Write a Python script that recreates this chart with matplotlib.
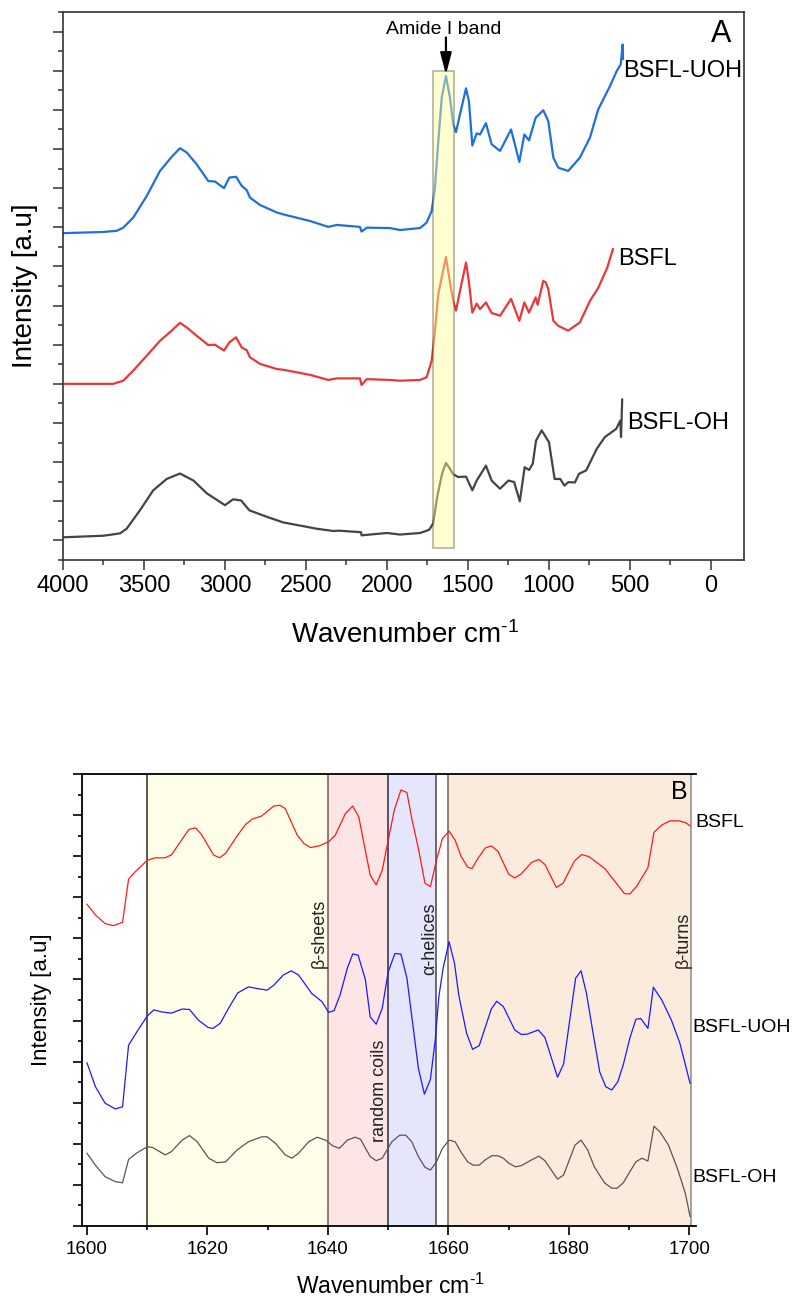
import matplotlib
matplotlib.use('Agg')
import matplotlib.pyplot as plt
from matplotlib.ticker import MultipleLocator, NullFormatter

plt.rcParams['font.family'] = ['Liberation Sans', 'DejaVu Sans']
plt.rcParams['mathtext.fontset'] = 'custom'
plt.rcParams['mathtext.rm'] = 'Liberation Sans'
plt.rcParams['mathtext.it'] = 'Liberation Sans:italic'
plt.rcParams['mathtext.default'] = 'regular'

# ---------------- Panel A data (FTIR spectra, offset) ----------------
a_uoh_x = [4000, 3751, 3669, 3628, 3566, 3483, 3401, 3329, 3278, 3236, 3175, 3103, 3062, 3006, 2973, 2932,
           2897, 2866, 2846, 2784, 2681, 2640, 2475, 2362, 2310, 2167, 2157, 2125, 1981, 1920, 1796, 1755,
           1724, 1704, 1683, 1662, 1636, 1611, 1591, 1574, 1549, 1512, 1494, 1473, 1446, 1426, 1389, 1354,
           1302, 1234, 1183, 1152, 1123, 1082, 1035, 1004, 973, 942, 881, 809, 747, 696, 623, 582, 557, 545, 543]
a_uoh_y = [7.85, 7.88, 7.91, 7.99, 8.25, 8.80, 9.44, 9.80, 10.02, 9.91, 9.61, 9.18, 9.17, 9.00, 9.27, 9.29,
           9.06, 8.95, 8.76, 8.57, 8.38, 8.33, 8.16, 8.01, 8.06, 8.01, 7.89, 7.99, 7.98, 7.93, 7.98, 8.12,
           8.42, 9.01, 10.2, 11.31, 11.86, 11.31, 10.63, 10.43, 10.89, 11.55, 11.22, 10.09, 10.40, 10.37, 10.66, 10.12,
           9.95, 10.5, 9.67, 10.37, 10.22, 10.8, 10.99, 10.71, 9.78, 9.52, 9.44, 9.78, 10.29, 11.01, 11.61, 11.99, 12.16, 12.67, 12.3]

a_bsfl_x = [4000, 3751, 3690, 3628, 3566, 3483, 3401, 3329, 3278, 3236, 3175, 3103, 3062, 3006, 2973, 2932,
            2897, 2866, 2846, 2784, 2681, 2640, 2475, 2362, 2310, 2167, 2157, 2125, 1981, 1920, 1796, 1755,
            1724, 1704, 1683, 1662, 1636, 1611, 1591, 1574, 1549, 1512, 1494, 1473, 1446, 1426, 1389, 1354,
            1302, 1234, 1183, 1152, 1123, 1082, 1070, 1035, 1020, 1004, 973, 942, 881, 809, 747, 696, 640, 605]
a_bsfl_y = [4.0, 4.0, 4.0, 4.08, 4.34, 4.72, 5.1, 5.36, 5.56, 5.44, 5.23, 4.99, 5.0, 4.85, 5.06, 5.19,
            4.93, 4.86, 4.68, 4.51, 4.38, 4.36, 4.23, 4.10, 4.14, 4.14, 3.97, 4.12, 4.10, 4.08, 4.10, 4.17,
            4.59, 5.36, 6.3, 6.72, 7.24, 6.59, 6.12, 5.87, 6.38, 7.1, 6.6, 5.82, 6.05, 5.91, 6.08, 5.81,
            5.74, 6.17, 5.61, 6.08, 5.82, 6.21, 6.02, 6.63, 6.59, 6.42, 5.61, 5.48, 5.36, 5.57, 6.12, 6.45, 6.97, 7.44]

a_oh_x = [4000, 3750, 3648, 3607, 3525, 3443, 3360, 3278, 3195, 3111, 3000, 2950, 2900, 2850, 2740, 2640,
          2435, 2330, 2300, 2160, 2157, 2000, 1920, 1796, 1740, 1715, 1690, 1660, 1636, 1611, 1591, 1560,
          1512, 1473, 1446, 1389, 1354, 1302, 1250, 1215, 1180, 1150, 1123, 1100, 1080, 1045, 1000, 965,
          930, 905, 880, 840, 815, 770, 705, 655, 585, 560, 555, 548]
a_oh_y = [0.08, 0.12, 0.18, 0.30, 0.77, 1.28, 1.57, 1.71, 1.53, 1.2, 0.9, 1.05, 1.02, 0.77, 0.6, 0.46,
          0.3, 0.24, 0.25, 0.21, 0.13, 0.19, 0.15, 0.19, 0.27, 0.43, 1.11, 1.70, 1.98, 1.83, 1.69, 1.62,
          1.63, 1.28, 1.53, 1.91, 1.53, 1.32, 1.53, 1.49, 1.0, 1.87, 1.80, 1.96, 2.55, 2.81, 2.51, 1.57,
          1.57, 1.40, 1.49, 1.48, 1.70, 1.79, 2.34, 2.64, 2.85, 3.06, 2.64, 3.6]

a_xticks = [4000, 3500, 3000, 2500, 2000, 1500, 1000, 500, 0]
amide_band = (1716, 1586)

# ---------------- Panel B data (amide I region) ----------------
b_bsfl_x = [1600.0, 1601.4, 1603.0, 1604.4, 1605.9, 1606.9, 1608.0, 1610.0, 1611.3, 1612.9, 1614.0, 1615.5,
            1616.9, 1618.0, 1619.0, 1621.0, 1622.0, 1623.0, 1624.9, 1626.3, 1627.4, 1629.0, 1631.0, 1632.0,
            1632.9, 1634.9, 1636.0, 1637.1, 1638.5, 1640.1, 1641.2, 1642.9, 1644.1, 1645.1, 1647.0, 1648.0,
            1649.0, 1651.0, 1652.1, 1653.1, 1653.9, 1655.0, 1656.1, 1657.0, 1658.0, 1659.0, 1660.1, 1661.1,
            1662.1, 1663.2, 1663.9, 1664.9, 1666.1, 1667.1, 1668.2, 1670.0, 1671.0, 1672.0, 1673.8, 1675.0,
            1676.0, 1677.9, 1679.0, 1680.9, 1682.1, 1683.3, 1684.6, 1686.0, 1687.6, 1689.2, 1690.1, 1691.2,
            1693.1, 1694.1, 1695.4, 1696.8, 1698.2, 1699.3, 1700.1]
b_bsfl_y = [7.83, 7.57, 7.36, 7.31, 7.39, 8.44, 8.62, 8.9, 8.96, 8.96, 9.03, 9.35,
            9.65, 9.69, 9.53, 9.03, 8.96, 9.07, 9.49, 9.77, 9.9, 9.98, 10.22, 10.24,
            10.16, 9.51, 9.31, 9.21, 9.25, 9.35, 9.51, 10.04, 10.22, 9.96, 8.54, 8.30,
            8.66, 10.12, 10.61, 10.55, 9.92, 9.19, 8.34, 8.26, 8.9, 9.43, 9.61, 9.39,
            8.99, 8.73, 8.70, 8.95, 9.2, 9.25, 9.12, 8.56, 8.47, 8.56, 8.85, 8.92,
            8.80, 8.24, 8.34, 8.88, 9.04, 8.99, 8.85, 8.69, 8.39, 8.09, 8.08, 8.26,
            8.72, 9.58, 9.76, 9.86, 9.86, 9.82, 9.74]

b_uoh_x = [1600.0, 1601.4, 1603.0, 1604.7, 1605.9, 1606.9, 1608.3, 1610.0, 1611.1, 1612.4, 1614.0, 1615.8,
           1617.0, 1618.5, 1620.1, 1620.9, 1622.1, 1623.5, 1625.0, 1626.8, 1628.2, 1629.9, 1631.0, 1632.6,
           1633.9, 1635.1, 1637.3, 1639.0, 1640.1, 1641.0, 1642.0, 1643.2, 1644.1, 1645.0, 1646.2, 1647.0,
           1648.0, 1649.0, 1650.0, 1651.1, 1652.1, 1653.1, 1655.0, 1656.0, 1657.0, 1657.8, 1658.4, 1659.1,
           1660.1, 1661.0, 1661.7, 1663.0, 1664.0, 1665.1, 1667.1, 1668.0, 1669.1, 1671.0, 1672.1, 1673.1,
           1674.9, 1676.0, 1678.1, 1679.1, 1681.1, 1682.0, 1682.9, 1684.0, 1685.1, 1686.1, 1687.1, 1688.1,
           1689.0, 1690.1, 1691.1, 1691.9, 1693.1, 1694.0, 1695.4, 1697.0, 1698.4, 1700.1]
b_uoh_y = [3.97, 3.39, 2.99, 2.85, 2.90, 4.40, 4.73, 5.11, 5.26, 5.21, 5.18, 5.28,
           5.27, 5.01, 4.83, 4.81, 4.93, 5.30, 5.67, 5.82, 5.78, 5.74, 5.86, 6.11,
           6.21, 6.11, 5.66, 5.46, 5.2, 5.24, 5.62, 6.27, 6.62, 6.59, 6.0, 5.09,
           4.91, 5.30, 6.19, 6.63, 6.62, 6.03, 3.84, 3.21, 3.57, 4.53, 5.58, 6.27,
           6.92, 6.39, 5.62, 4.69, 4.30, 4.39, 5.28, 5.47, 5.34, 4.77, 4.66, 4.67,
           4.77, 4.59, 3.62, 3.94, 6.03, 6.21, 5.66, 4.69, 3.75, 3.39, 3.31, 3.51,
           3.92, 4.57, 5.03, 5.05, 4.81, 5.81, 5.50, 5.01, 4.45, 3.47]

b_oh_x = [1600.0, 1601.4, 1603.0, 1604.7, 1605.9, 1606.9, 1608.3, 1610.0, 1610.9, 1613.0, 1614.0, 1615.8,
          1617.0, 1618.3, 1620.2, 1621.6, 1623.0, 1624.9, 1626.8, 1629.0, 1629.9, 1631.3, 1632.9, 1634.0,
          1635.1, 1636.8, 1638.2, 1639.6, 1640.8, 1641.9, 1643.2, 1644.5, 1645.4, 1647.0, 1648.0, 1649.0,
          1650.6, 1651.9, 1652.9, 1653.9, 1655.0, 1656.1, 1657.0, 1658.0, 1659.0, 1660.1, 1661.1, 1662.2,
          1663.2, 1664.1, 1665.1, 1666.1, 1667.2, 1668.2, 1669.1, 1670.0, 1671.1, 1672.1, 1673.8, 1675.0,
          1676.0, 1678.1, 1679.1, 1681.0, 1682.0, 1683.1, 1684.2, 1685.9, 1687.1, 1688.0, 1689.0, 1690.1,
          1691.1, 1692.1, 1693.1, 1694.1, 1695.1, 1696.5, 1697.9, 1699.3, 1700.1]
b_oh_y = [1.77, 1.48, 1.20, 1.08, 1.05, 1.62, 1.78, 1.93, 1.91, 1.73, 1.81, 2.09,
          2.20, 2.05, 1.65, 1.54, 1.56, 1.85, 2.05, 2.17, 2.17, 2.01, 1.73, 1.65,
          1.77, 2.05, 2.16, 2.09, 1.95, 1.89, 2.09, 2.16, 2.11, 1.69, 1.59, 1.65,
          2.05, 2.21, 2.21, 2.05, 1.69, 1.43, 1.36, 1.56, 1.89, 2.09, 2.05, 1.77,
          1.56, 1.48, 1.48, 1.61, 1.71, 1.71, 1.65, 1.53, 1.44, 1.47, 1.61, 1.70,
          1.59, 1.14, 1.24, 1.97, 2.09, 1.85, 1.44, 1.05, 0.92, 0.92, 1.05, 1.32,
          1.56, 1.65, 1.58, 2.43, 2.29, 1.97, 1.44, 0.80, 0.23]

b_xticks = [1600, 1620, 1640, 1660, 1680, 1700]
region_bounds = [(1610, 1640), (1640, 1650), (1650, 1658), (1660, 1700.3)]
region_colors = ['#fffee9', '#fde5e5', '#e5e5fb', '#fbebdc']
region_names = ['β-sheets', 'random coils', 'α-helices', 'β-turns']

XLABEL = r'Wavenumber cm$^{\text{-}1}$'

W, H = 793, 1300
fig = plt.figure(figsize=(W / 100, H / 100), dpi=100)

# ================= Panel A =================
axA = fig.add_axes([63 / W, 1 - 560 / H, 681 / W, 548 / H])
axA.plot(a_uoh_x, a_uoh_y, color='#1f6fdc', lw=1.6, zorder=2)
axA.plot(a_bsfl_x, a_bsfl_y, color='#e8383a', lw=1.6, zorder=2)
axA.plot(a_oh_x, a_oh_y, color='#444444', lw=1.6, zorder=2)
axA.axvspan(amide_band[1], amide_band[0], ymin=(-0.2 + 0.5) / 14, ymax=(12.0 + 0.5) / 14,
            facecolor='#ffff99', edgecolor='#555522', alpha=0.45, lw=1.2, zorder=3)
axA.set_xlim(4000, -204)
axA.set_ylim(-0.5, 13.5)
axA.set_xticks(a_xticks)
axA.set_xticklabels([str(t) for t in a_xticks])
axA.xaxis.set_minor_locator(MultipleLocator(250))
axA.yaxis.set_major_locator(MultipleLocator(1))
axA.yaxis.set_minor_locator(MultipleLocator(0.5))
axA.yaxis.set_major_formatter(NullFormatter())
axA.tick_params(axis='both', which='major', direction='out', length=7, width=1.1, color='#333333',
                labelsize=17, pad=4, top=False, right=False)
axA.tick_params(axis='both', which='minor', direction='out', length=3.5, width=1.1, color='#333333',
                top=False, right=False)
for s in axA.spines.values():
    s.set_color('#333333')
    s.set_linewidth(1.2)

axA.text(1648, 13.06, 'Amide I band', ha='center', va='center', fontsize=14)
axA.annotate('', xy=(1636, 11.9), xytext=(1636, 12.85),
             arrowprops=dict(arrowstyle='-|>,head_length=0.65,head_width=0.17', mutation_scale=20,
                             color='black', lw=1.6, shrinkA=0, shrinkB=0))
axA.text(-62, 12.95, 'A', ha='center', va='center', fontsize=22)
axA.text(543, 11.99, 'BSFL-UOH', ha='left', va='center', fontsize=17)
axA.text(574, 7.19, 'BSFL', ha='left', va='center', fontsize=17)
axA.text(518, 3.01, 'BSFL-OH', ha='left', va='center', fontsize=17)

fig.text(25 / W, 1 - 286 / H, 'Intensity [a.u]', rotation=90, ha='center', va='center', fontsize=20)
fig.text(405 / W, 1 - 643 / H, XLABEL, ha='center', va='baseline', fontsize=20)

# ================= Panel B =================
axB = fig.add_axes([82 / W, 1 - 1226 / H, 614 / W, 452 / H])
for (x0, x1), c in zip(region_bounds, region_colors):
    axB.axvspan(x0, x1, facecolor=c, edgecolor='none', zorder=0)
line_cols = ['#2b2b1a', '#6b5f5f', '#2a2a44', '#444444', '#6e6358', '#8a8a8a']
line_pos = [1610, 1640, 1650, 1658, 1660, 1700.3]
for xp, lc in zip(line_pos, line_cols):
    axB.axvline(xp, color=lc, lw=1.1, zorder=1)

axB.plot(b_bsfl_x, b_bsfl_y, color='#ff1a1a', lw=0.9, zorder=2)
axB.plot(b_uoh_x, b_uoh_y, color='#1a1aff', lw=0.9, zorder=2)
axB.plot(b_oh_x, b_oh_y, color='#5a5555', lw=0.9, zorder=2)

axB.set_xlim(1599.17, 1701.08)
axB.set_ylim(0, 11)
axB.set_xticks(b_xticks)
axB.set_xticklabels([str(t) for t in b_xticks])
axB.xaxis.set_minor_locator(MultipleLocator(10))
axB.yaxis.set_major_locator(MultipleLocator(1))
axB.yaxis.set_minor_locator(MultipleLocator(0.5))
axB.yaxis.set_major_formatter(NullFormatter())
axB.tick_params(axis='both', which='major', direction='out', length=6.5, width=1.2,
                labelsize=13.5, pad=4, top=False, right=False)
axB.tick_params(axis='both', which='minor', direction='out', length=3, width=1.2, top=False, right=False)
axB.spines['right'].set_visible(False)
for k in ['left', 'bottom', 'top']:
    axB.spines[k].set_linewidth(1.3)

txt_kw = dict(rotation=90, ha='right', va='bottom', fontsize=13, color='#222222', zorder=4)
axB.text(1639.9, 6.28, region_names[0], **txt_kw)
axB.text(1649.9, 2.04, region_names[1], **txt_kw)
axB.text(1658.3, 6.1, region_names[2], **txt_kw)
axB.text(1700.3, 6.28, region_names[3], **txt_kw)

axB.text(1698.3, 10.56, 'B', ha='center', va='center', fontsize=18)
axB.text(1701.0, 9.83, 'BSFL', ha='left', va='center', fontsize=14, clip_on=False)
axB.text(1700.4, 4.84, 'BSFL-UOH', ha='left', va='center', fontsize=14, clip_on=False)
axB.text(1700.4, 1.19, 'BSFL-OH', ha='left', va='center', fontsize=14, clip_on=False)

fig.text(42 / W, 1 - 1000 / H, 'Intensity [a.u]', rotation=90, ha='center', va='center', fontsize=16)
fig.text(390 / W, 1 - 1294 / H, XLABEL, ha='center', va='baseline', fontsize=16.5)

fig.savefig('out.png', dpi=100)
